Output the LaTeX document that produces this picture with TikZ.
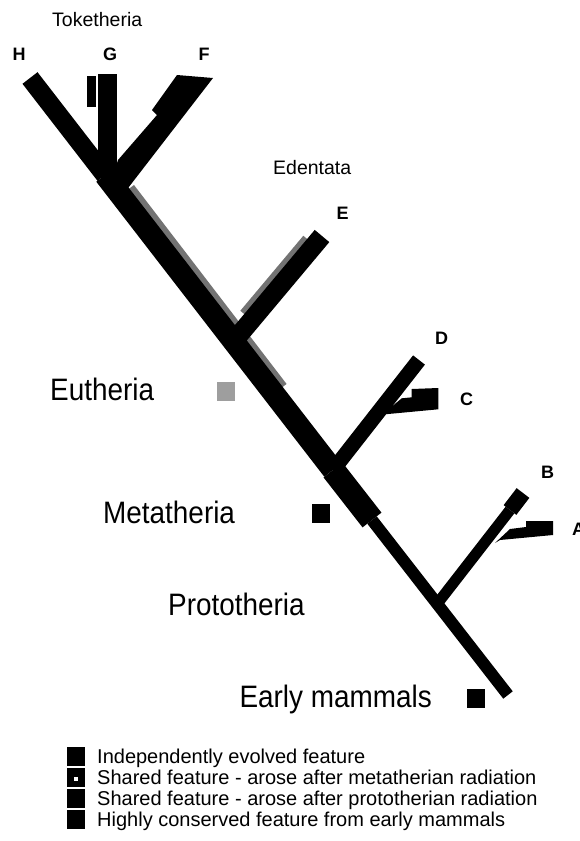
\documentclass[tikz,border=0pt]{standalone}
\usepackage{fontspec}
\setmainfont{Liberation Sans}
\newfontfamily\narrowsf[FakeStretch=0.9]{Liberation Sans}
\newfontfamily\boldsf{Liberation Sans Bold}
\usepackage{tikz}

\begin{document}
\begin{tikzpicture}[x=1pt,y=-1pt,
  ramo/.style={line width=#1, line cap=butt},
  segno/.style={minimum width=18, minimum height=19, inner sep=0pt, outer sep=0pt},
  lettera/.style={font=\boldsf\fontsize{18}{18}\selectfont, inner sep=0pt},
  gruppo/.style={font=\narrowsf\fontsize{31}{31}\selectfont, inner sep=0pt, anchor=base west},
  clade/.style={font=\fontsize{19.5}{19.5}\selectfont, inner sep=0pt, anchor=base west},
  voce/.style={font=\fontsize{20}{21}\selectfont, inner sep=0pt, anchor=base west}]

% Colori
\definecolor{colShared}{gray}{0.45}
\definecolor{colEu}{gray}{0.62}

\useasboundingbox (0,0) rectangle (579,841);

% Punti dell'albero
\coordinate (Htip) at (30,78);
\coordinate (jG) at (105,175);
\coordinate (jE) at (234,341);
\coordinate (jD) at (333,470);
\coordinate (jT) at (372,520);
\coordinate (jB) at (437,604);
\coordinate (Bot) at (508,695);
\coordinate (Gbase) at (107.5,178);
\coordinate (Gtip) at (107.5,74);
\coordinate (Etip) at (322,236);
\coordinate (Dtip) at (419,360);
\coordinate (Bmid) at (510,510);
\coordinate (Btip) at (523,493);

% Caratteri condivisi (bordo grigio)
\draw[ramo=10, colShared] (130,188) -- (282.6,387);
\draw[ramo=7, colShared] (243,313) -- (306,238);

% Tronco
\draw[ramo=19] (Htip) -- (jG);
\draw[ramo=22] (jG) -- (jD);
\draw[ramo=24] (jD) -- (jT);
\draw[ramo=12] (jT) -- (Bot);

% Toketheria
\draw[ramo=19] (Gbase) -- (Gtip);
\fill (87,76) rectangle (96,107);
\fill (118,160) -- (157,115) -- (152,110) -- (177,75) -- (213,78) -- (125,192) -- (110,185) -- cycle;

% Edentata
\draw[ramo=19] (jE) -- (Etip);

% D e C
\draw[ramo=15] (jD) -- (Dtip);
\fill (378,418) -- (401.7,398.3) -- (411.7,397.3) -- (411.7,389) -- (438.3,388) -- (438.3,409.3) -- (385,414.3) -- cycle;

% B e A
\draw[ramo=11] (jB) -- (Bmid);
\draw[ramo=16] (Bmid) -- (Btip);
\fill (495,543) -- (510,529) -- (526,527) -- (526,521) -- (553,521) -- (553,535) -- (500,540) -- cycle;

% Etichette dei rami
\node[clade] (lblTok) at (52,26) {Toketheria};
\node[lettera] (lblH) at (19,54) {H};
\node[lettera] (lblG) at (110,54) {G};
\node[lettera] (lblF) at (204,54) {F};
\node[clade] (lblEd) at (273,174) {Edentata};
\node[lettera] (lblE) at (342.5,213.5) {E};
\node[lettera] (lblD) at (441.5,338.5) {D};
\node[lettera] (lblC) at (466.5,399) {C};
\node[lettera] (lblB) at (547.5,472.5) {B};
\node[lettera, anchor=base west] (lblA) at (572,535) {A};

% Gruppi
\node[gruppo] (lblEu) at (50,400) {Eutheria};
\node[gruppo] (lblMe) at (103,523) {Metatheria};
\node[gruppo] (lblPr) at (168,615) {Prototheria};
\node[gruppo, anchor=base east] (lblEa) at (432,707) {Early mammals};

\node[segno, fill=colEu] (sqEu) at (225.5,391) {};
\node[segno, fill=black] (sqMe) at (321,513.5) {};
\node[segno, fill=black] (sqEa) at (476,698) {};

% Legenda
\node[segno, fill=black] (leg1) at (76,756) {};
\node[segno, fill=black] (leg2) at (76,777) {};
\fill[white] (leg2.center) ++(-2,0) rectangle ++(4,4);
\node[segno, fill=black] (leg3) at (76,798) {};
\node[segno, fill=black] (leg4) at (76,819) {};
\node[voce] (txt1) at (97,763) {Independently evolved feature};
\node[voce] (txt2) at (97,784) {Shared feature - arose after metatherian radiation};
\node[voce] (txt3) at (97,805) {Shared feature - arose after prototherian radiation};
\node[voce] (txt4) at (97,826) {Highly conserved feature from early mammals};

\end{tikzpicture}
\end{document}
